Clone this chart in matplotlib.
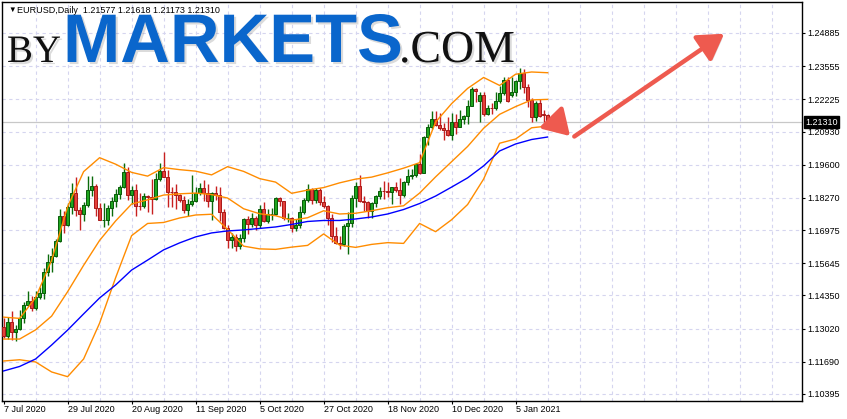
import matplotlib
matplotlib.use("Agg")
import matplotlib.pyplot as plt
import matplotlib.transforms as mtransforms
import matplotlib.patheffects as pe
from matplotlib.patches import FancyArrowPatch

# EURUSD daily candles, 7 Jul 2020 .. 15 Jan 2021 (one entry per bar)
opens = [1.1309, 1.1274, 1.1330, 1.1288, 1.1300, 1.1344, 1.1397, 1.1412, 1.1384, 1.1428,
         1.1445, 1.1528, 1.1571, 1.1595, 1.1655, 1.1753, 1.1716, 1.1791, 1.1847, 1.1778,
         1.1762, 1.1799, 1.1858, 1.1875, 1.1788, 1.1737, 1.1739, 1.1785, 1.1814, 1.1841,
         1.1870, 1.1930, 1.1839, 1.1858, 1.1795, 1.1793, 1.1834, 1.1831, 1.1821, 1.1902,
         1.1935, 1.1912, 1.1852, 1.1851, 1.1837, 1.1818, 1.1777, 1.1802, 1.1814, 1.1845,
         1.1865, 1.1846, 1.1813, 1.1848, 1.1840, 1.1770, 1.1704, 1.1658, 1.1669, 1.1632,
         1.1666, 1.1743, 1.1721, 1.1747, 1.1716, 1.1781, 1.1735, 1.1761, 1.1763, 1.1826,
         1.1813, 1.1744, 1.1746, 1.1706, 1.1718, 1.1768, 1.1818, 1.1862, 1.1817, 1.1860,
         1.1810, 1.1796, 1.1745, 1.1674, 1.1647, 1.1642, 1.1713, 1.1725, 1.1826, 1.1875,
         1.1815, 1.1812, 1.1776, 1.1808, 1.1833, 1.1855, 1.1854, 1.1851, 1.1869, 1.1857,
         1.1838, 1.1889, 1.1915, 1.1917, 1.1963, 1.1927, 1.2071, 1.2113, 1.2144, 1.2121,
         1.2108, 1.2101, 1.2079, 1.2133, 1.2112, 1.2144, 1.2154, 1.2197, 1.2262, 1.2215,
         1.2238, 1.2165, 1.2189, 1.2187, 1.2215, 1.2248, 1.2298, 1.2240, 1.2252, 1.2297,
         1.2326, 1.2271, 1.2219, 1.2151, 1.2206, 1.2162, 1.21577]
highs = [1.1345, 1.1347, 1.1371, 1.1318, 1.1375, 1.1409, 1.1452, 1.1434, 1.1452, 1.1469,
         1.1546, 1.1601, 1.1626, 1.1660, 1.1781, 1.1775, 1.1806, 1.1886, 1.1909, 1.1792,
         1.1809, 1.1916, 1.1916, 1.1884, 1.1808, 1.1806, 1.1800, 1.1829, 1.1864, 1.1880,
         1.1966, 1.1951, 1.1875, 1.1883, 1.1846, 1.1848, 1.1837, 1.1901, 1.1927, 1.1966,
         1.2011, 1.1937, 1.1870, 1.1882, 1.1843, 1.1835, 1.1823, 1.1917, 1.1872, 1.1887,
         1.1900, 1.1882, 1.1850, 1.1873, 1.1872, 1.1782, 1.1718, 1.1687, 1.1683, 1.1683,
         1.1745, 1.1754, 1.1767, 1.1752, 1.1799, 1.1809, 1.1784, 1.1786, 1.1831, 1.1829,
         1.1814, 1.1767, 1.1751, 1.1740, 1.1793, 1.1826, 1.1881, 1.1867, 1.1868, 1.1868,
         1.1836, 1.1798, 1.1760, 1.1708, 1.1675, 1.1720, 1.1770, 1.1838, 1.1891, 1.1920,
         1.1835, 1.1814, 1.1811, 1.1838, 1.1869, 1.1895, 1.1892, 1.1872, 1.1891, 1.1906,
         1.1896, 1.1941, 1.1941, 1.1964, 1.2004, 1.2077, 1.2122, 1.2176, 1.2177, 1.2168,
         1.2129, 1.2150, 1.2167, 1.2162, 1.2178, 1.2161, 1.2219, 1.2273, 1.2268, 1.2250,
         1.2253, 1.2201, 1.2209, 1.2251, 1.2275, 1.2310, 1.2310, 1.2310, 1.2300, 1.2349,
         1.2343, 1.2282, 1.2227, 1.2215, 1.2222, 1.2180, 1.21618]
lows = [1.1263, 1.1262, 1.1255, 1.1254, 1.1297, 1.1325, 1.1391, 1.1371, 1.1377, 1.1422,
        1.1421, 1.1513, 1.1528, 1.1588, 1.1648, 1.1687, 1.1712, 1.1761, 1.1755, 1.1696,
        1.1735, 1.1790, 1.1834, 1.1753, 1.1737, 1.1711, 1.1716, 1.1753, 1.1790, 1.1824,
        1.1865, 1.1820, 1.1802, 1.1753, 1.1778, 1.1787, 1.1771, 1.1763, 1.1818, 1.1895,
        1.1910, 1.1789, 1.1789, 1.1781, 1.1809, 1.1765, 1.1752, 1.1796, 1.1811, 1.1838,
        1.1814, 1.1789, 1.1737, 1.1819, 1.1734, 1.1700, 1.1626, 1.1626, 1.1612, 1.1623,
        1.1650, 1.1683, 1.1708, 1.1696, 1.1707, 1.1731, 1.1727, 1.1738, 1.1758, 1.1795,
        1.1737, 1.1731, 1.1688, 1.1695, 1.1705, 1.1762, 1.1810, 1.1803, 1.1805, 1.1800,
        1.1788, 1.1718, 1.1650, 1.1640, 1.1622, 1.1632, 1.1603, 1.1709, 1.1791, 1.1810,
        1.1775, 1.1745, 1.1746, 1.1792, 1.1822, 1.1822, 1.1832, 1.1801, 1.1852, 1.1802,
        1.1830, 1.1880, 1.1901, 1.1911, 1.1923, 1.1925, 1.2039, 1.2105, 1.2115, 1.2101,
        1.2059, 1.2077, 1.2058, 1.2082, 1.2110, 1.2125, 1.2125, 1.2195, 1.2210, 1.2130,
        1.2154, 1.2159, 1.2163, 1.2181, 1.2208, 1.2241, 1.2211, 1.2230, 1.2236, 1.2264,
        1.2246, 1.2193, 1.2132, 1.2136, 1.2152, 1.2130, 1.21173]
closes = [1.1274, 1.1330, 1.1288, 1.1300, 1.1344, 1.1397, 1.1412, 1.1384, 1.1428, 1.1445,
          1.1528, 1.1571, 1.1595, 1.1655, 1.1753, 1.1716, 1.1791, 1.1847, 1.1778, 1.1762,
          1.1799, 1.1858, 1.1875, 1.1788, 1.1737, 1.1739, 1.1785, 1.1814, 1.1841, 1.1870,
          1.1930, 1.1839, 1.1858, 1.1795, 1.1793, 1.1834, 1.1831, 1.1821, 1.1902, 1.1935,
          1.1912, 1.1852, 1.1851, 1.1837, 1.1818, 1.1777, 1.1802, 1.1814, 1.1845, 1.1865,
          1.1846, 1.1813, 1.1848, 1.1840, 1.1770, 1.1704, 1.1658, 1.1669, 1.1632, 1.1666,
          1.1743, 1.1721, 1.1747, 1.1716, 1.1781, 1.1735, 1.1761, 1.1763, 1.1826, 1.1813,
          1.1744, 1.1746, 1.1706, 1.1718, 1.1768, 1.1818, 1.1862, 1.1817, 1.1860, 1.1810,
          1.1796, 1.1745, 1.1674, 1.1647, 1.1642, 1.1713, 1.1725, 1.1826, 1.1875, 1.1815,
          1.1812, 1.1776, 1.1808, 1.1833, 1.1855, 1.1854, 1.1851, 1.1869, 1.1857, 1.1838,
          1.1889, 1.1915, 1.1917, 1.1963, 1.1927, 1.2071, 1.2113, 1.2144, 1.2121, 1.2108,
          1.2101, 1.2079, 1.2133, 1.2112, 1.2144, 1.2154, 1.2197, 1.2262, 1.2256, 1.2238,
          1.2165, 1.2189, 1.2187, 1.2215, 1.2248, 1.2298, 1.2215, 1.2252, 1.2297, 1.2326,
          1.2271, 1.2219, 1.2151, 1.2206, 1.2156, 1.2158, 1.21310]

# indicator lines every 4th bar
ind_bars = list(range(0, 137, 4))
bb_upper = [1.1348, 1.1343, 1.1426, 1.1576, 1.1791, 1.1932, 1.1988, 1.1962, 1.1929, 1.1914,
            1.1948, 1.1940, 1.1934, 1.1919, 1.1952, 1.1933, 1.1904, 1.1890, 1.1845, 1.1858,
            1.1868, 1.1887, 1.1902, 1.1910, 1.1927, 1.1946, 1.1968, 1.2131, 1.2205, 1.2266,
            1.2310, 1.2278, 1.2323, 1.2332, 1.2329]
bb_middle = [1.1260, 1.1260, 1.1297, 1.1352, 1.1450, 1.1556, 1.1656, 1.1734, 1.1802, 1.1819,
             1.1838, 1.1843, 1.1846, 1.1840, 1.1826, 1.1783, 1.1763, 1.1755, 1.1737, 1.1747,
             1.1775, 1.1762, 1.1765, 1.1775, 1.1787, 1.1795, 1.1846, 1.1911, 1.1972, 1.2033,
             1.2106, 1.2162, 1.2193, 1.2220, 1.2222]
bb_lower = [1.1172, 1.1177, 1.1168, 1.1128, 1.1109, 1.1180, 1.1324, 1.1506, 1.1675, 1.1724,
            1.1728, 1.1746, 1.1758, 1.1761, 1.1700, 1.1633, 1.1622, 1.1620, 1.1629, 1.1636,
            1.1682, 1.1637, 1.1628, 1.1640, 1.1647, 1.1644, 1.1724, 1.1691, 1.1739, 1.1800,
            1.1902, 1.2046, 1.2063, 1.2108, 1.2115]
ma_line = [1.1132, 1.1150, 1.1180, 1.1236, 1.1296, 1.1361, 1.1425, 1.1477, 1.1537, 1.1577,
           1.1618, 1.1646, 1.1670, 1.1686, 1.1694, 1.1698, 1.1704, 1.1710, 1.1720, 1.1732,
           1.1736, 1.1736, 1.1742, 1.1750, 1.1762, 1.1780, 1.1804, 1.1834, 1.1870, 1.1907,
           1.1955, 1.2015, 1.2043, 1.2061, 1.2071]

date_labels = ["7 Jul 2020", "29 Jul 2020", "20 Aug 2020", "11 Sep 2020", "5 Oct 2020",
               "27 Oct 2020", "18 Nov 2020", "10 Dec 2020", "5 Jan 2021"]
price_ticks = [1.24885, 1.23555, 1.22225, 1.20930, 1.19600, 1.18270,
               1.16975, 1.15645, 1.14350, 1.13020, 1.11690, 1.10395]
last_price = 1.21310
header = "EURUSD,Daily  1.21577 1.21618 1.21173 1.21310"

W, H = 847, 419
fig = plt.figure(figsize=(W / 100, H / 100), dpi=100)
fig.patch.set_facecolor("white")
ax = fig.add_axes([2 / W, 1 - 401 / H, 800 / W, 399 / H])
ax.set_xlim(-0.4, 199.6)
ax.set_ylim(1.10114, 1.26129)

font = ["Liberation Sans", "DejaVu Sans"]
grid_kw = dict(color="#d5d5ef", lw=0.8, ls=(0, (3, 3)), zorder=0)
for t in price_ticks:
    ax.axhline(t, **grid_kw)
for i in range(8, 200, 8):
    ax.axvline(i, **grid_kw)
ax.axhline(last_price, color="#c8c8c8", lw=0.9, zorder=1)

# candles
n = len(closes)
xs = list(range(n))
up = [c >= o for o, c in zip(opens, closes)]
wick_col = ["#0b6b0b" if u else "#c82020" for u in up]
fill_col = ["#1fa51f" if u else "#e5413b" for u in up]
edge_col = ["#075a07" if u else "#a81818" for u in up]
ax.vlines(xs, lows, highs, colors=wick_col, lw=1.0, zorder=2)
body_h = [max(abs(c - o), 0.00004) for o, c in zip(opens, closes)]
body_b = [min(o, c) for o, c in zip(opens, closes)]
ax.bar(xs, body_h, bottom=body_b, width=0.62, color=fill_col,
       edgecolor=edge_col, lw=0.7, zorder=3)

# indicators
ax.plot(ind_bars, bb_upper, color="#ff8c00", lw=1.0, zorder=4)
ax.plot(ind_bars, bb_middle, color="#ff8c00", lw=1.0, zorder=4)
ax.plot(ind_bars, bb_lower, color="#ff8c00", lw=1.0, zorder=4)
ax.plot(ind_bars, ma_line, color="#0000ff", lw=1.0, zorder=4)

# axes, ticks
for s in ax.spines.values():
    s.set_color("black")
    s.set_linewidth(1.0)
ax.yaxis.tick_right()
ax.set_yticks(price_ticks)
ax.set_yticklabels([f"{t:.5f}" for t in price_ticks], fontfamily=font, fontsize=6.5)
ax.set_xticks(range(0, 16 * len(date_labels), 16))
ax.set_xticklabels(date_labels, fontfamily=font, fontsize=6.5, ha="left")
ax.tick_params(axis="both", direction="out", length=2.5, width=0.8, color="black")
ax.tick_params(axis="y", pad=1.0)
ax.tick_params(axis="x", pad=0.5)

# current price box
trans = mtransforms.blended_transform_factory(ax.transAxes, ax.transData)
ax.text(1.004, last_price, f"{last_price:.5f}", transform=trans, ha="left", va="center",
        color="white", fontsize=6.5, fontfamily=font, clip_on=False, zorder=10,
        bbox=dict(boxstyle="square,pad=0.15", fc="black", ec="black"))

# watermark
txt_shadow = [pe.SimplePatchShadow(offset=(1.5, -1.5), shadow_rgbFace="#888888", alpha=0.3),
              pe.Normal()]
fig.text(7 / W, 1 - 62 / H, "BY", fontsize=28, fontfamily="Liberation Serif",
         color="#111111", va="baseline", zorder=20, path_effects=txt_shadow)
fig.text(63 / W, 1 - 62 / H, "MARKETS", fontsize=49.5, fontfamily="Liberation Sans",
         fontweight="bold", color="#0a66cc", va="baseline", zorder=20,
         path_effects=txt_shadow)
fig.text(399 / W, 1 - 62 / H, ".COM", fontsize=33, fontfamily="Liberation Serif",
         color="#111111", va="baseline", zorder=20, path_effects=txt_shadow)

# header (drawn over the watermark)
fig.text(8 / W, 1 - 10.5 / H, "\u25BC", fontsize=5.5, fontfamily=font, va="center", zorder=30)
fig.text(17 / W, 1 - 10.5 / H, header, fontsize=6.5, fontfamily=font, va="center", zorder=30)

# red forecast arrows (axes fraction)
shadow = [pe.withSimplePatchShadow(offset=(1.5, -1.5), shadow_rgbFace="#999999", alpha=0.35)]
arrow_kw = dict(transform=ax.transAxes, color="#ee5a4f", lw=3.2, zorder=15,
                mutation_scale=17, path_effects=shadow)
ax.add_patch(FancyArrowPatch((0.691, 0.703), (0.7125, 0.659),
                             arrowstyle="-|>,head_length=0.9,head_width=0.55", **arrow_kw))
ax.add_patch(FancyArrowPatch((0.7125, 0.659), (0.9055, 0.9245),
                             arrowstyle="-|>,head_length=0.9,head_width=0.55", **arrow_kw))

fig.savefig("out.png", dpi=100)
